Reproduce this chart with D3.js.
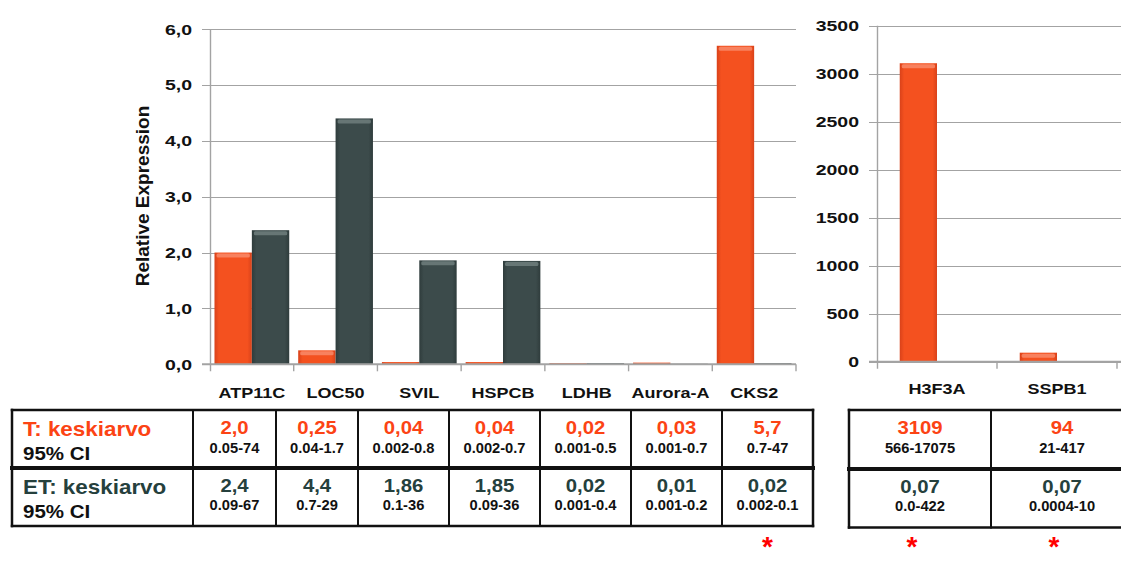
<!DOCTYPE html>
<html>
<head>
<meta charset="utf-8">
<script src="https://cdn.jsdelivr.net/npm/d3@7"></script>
<style>
  html, body { margin: 0; padding: 0; background: #fff; }
  svg { display: block; font-family: "Liberation Sans", Arial, sans-serif; }
</style>
</head>
<body>
<svg id="chart" width="1121" height="562"></svg>
<script>
// ---- data ----
const leftGenes = ["ATP11C", "LOC50", "SVIL", "HSPCB", "LDHB", "Aurora-A", "CKS2"];
const leftTMean = ["2,0", "0,25", "0,04", "0,04", "0,02", "0,03", "5,7"];
const leftTCI = ["0.05-74", "0.04-1.7", "0.002-0.8", "0.002-0.7", "0.001-0.5", "0.001-0.7", "0.7-47"];
const leftETMean = ["2,4", "4,4", "1,86", "1,85", "0,02", "0,01", "0,02"];
const leftETCI = ["0.09-67", "0.7-29", "0.1-36", "0.09-36", "0.001-0.4", "0.001-0.2", "0.002-0.1"];

const rightGenes = ["H3F3A", "SSPB1"];
const rightTMean = ["3109", "94"];
const rightTCI = ["566-17075", "21-417"];
const rightETMean = ["0,07", "0,07"];
const rightETCI = ["0.0-422", "0.0004-10"];

const leftTicks = [0, 1, 2, 3, 4, 5, 6];
const rightTicks = [0, 500, 1000, 1500, 2000, 2500, 3000, 3500];
const groups = ["T", "ET"];
const rowTitles = ["T: keskiarvo", "ET: keskiarvo"];
const ciTitle = "95% CI";
const significant = ["CKS2", "H3F3A", "SSPB1"];
const yTitle = "Relative Expression";

// ---- helpers ----
const num = s => +s.replace(",", ".");
const commaFmt = v => d3.format(".1f")(v).replace(".", ",");

const ORANGE = "#f4511f", ORANGE_HI = "#f8896a", ORANGE_DK = "#d9421a";
const GRAY = "#3c4b4b", GRAY_HI = "#6f7e7d", GRAY_DK = "#2f3c3c";
const TXT_T = "#fc4314", TXT_ET = "#25403d";

const svg = d3.select("#chart");
svg.append("rect").attr("width", 1121).attr("height", 562).attr("fill", "#fff");

const defs = svg.append("defs");
function grad(id, c0, c1, c2) {
  const g = defs.append("linearGradient").attr("id", id)
    .attr("x1", 0).attr("x2", 1).attr("y1", 0).attr("y2", 0);
  g.append("stop").attr("offset", "0%").attr("stop-color", c0);
  g.append("stop").attr("offset", "12%").attr("stop-color", c1);
  g.append("stop").attr("offset", "88%").attr("stop-color", c1);
  g.append("stop").attr("offset", "100%").attr("stop-color", c2);
}
grad("gT", ORANGE_DK, ORANGE, ORANGE_DK);
grad("gET", GRAY_DK, GRAY, GRAY_DK);

const style = {
  T: { fill: "url(#gT)", hi: ORANGE_HI },
  ET: { fill: "url(#gET)", hi: GRAY_HI }
};

// stretched text: draws text at (x,y) with horizontal scale k
function stext(parent, str, x, y, size, k, anchor, color, weight) {
  return parent.append("text")
    .attr("transform", `translate(${x},${y}) scale(${k},1)`)
    .attr("text-anchor", anchor)
    .attr("font-size", size)
    .attr("font-weight", weight || "bold")
    .attr("fill", color || "#000")
    .text(str);
}

function drawPanel(opts) {
  const { genes, tVals, etVals, x0, x1, gridEnd, y, ticks, tickFmt, groupPad } = opts;
  const g = svg.append("g");
  const x = d3.scaleBand().domain(genes).range([x0, x1]).padding(0);
  const xs = d3.scaleBand().domain(groups).range([0, x.bandwidth()])
    .paddingInner(0).paddingOuter(groupPad);
  const [yBottom, yTop] = y.range();

  // grid lines (extending left as outer ticks)
  g.selectAll(".grid").data(ticks).join("line")
    .attr("x1", x0 - 8).attr("x2", gridEnd)
    .attr("y1", d => Math.round(y(d)) + 0.5).attr("y2", d => Math.round(y(d)) + 0.5)
    .attr("stroke", "#a3a3a3").attr("stroke-width", 1.2);

  // tick labels
  ticks.forEach(t => {
    stext(g, tickFmt(t), x0 - 18, y(t) + 5.5, 15, 1.3, "end", "#111");
  });

  // bars
  const rows = genes.map((gene, i) => ({ gene, T: tVals[i], ET: etVals[i] }));
  rows.forEach(r => {
    groups.forEach(s => {
      const v = r[s];
      const bx = x(r.gene) + xs(s);
      const bw = xs.bandwidth();
      const by = y(v);
      const bh = yBottom - by;
      if (bh <= 0) return;
      g.append("rect").attr("x", bx).attr("y", by).attr("width", bw).attr("height", bh)
        .attr("fill", style[s].fill);
      if (bh > 3) {
        g.append("rect").attr("x", bx + 2).attr("y", by + 1)
          .attr("width", bw - 4).attr("height", Math.min(4, bh - 2))
          .attr("rx", 1.5).attr("fill", style[s].hi).attr("opacity", 0.85);
      }
    });
  });

  // baseline drawn over the bars
  g.append("line").attr("x1", x0 - 8).attr("x2", gridEnd)
    .attr("y1", yBottom).attr("y2", yBottom)
    .attr("stroke", "#a3a3a3").attr("stroke-width", 2);

  // y axis line
  g.append("line").attr("x1", x0 + 0.5).attr("x2", x0 + 0.5)
    .attr("y1", yTop).attr("y2", yBottom + 7)
    .attr("stroke", "#a3a3a3").attr("stroke-width", 1.4);

  // category boundary ticks
  const bounds = genes.map(d => x(d)).concat([x1]);
  g.selectAll(".ctick").data(bounds.slice(1)).join("line")
    .attr("x1", d => d).attr("x2", d => d)
    .attr("y1", yBottom).attr("y2", yBottom + 7)
    .attr("stroke", "#a3a3a3").attr("stroke-width", 1.4);

  // category labels
  genes.forEach(gene => {
    stext(g, gene, x(gene) + x.bandwidth() / 2, opts.labelY, 15, 1.2, "middle", "#111");
  });
  return x;
}

// ---- left panel ----
const yL = d3.scaleLinear().domain([0, 6]).range([364.3, 29]);
drawPanel({
  genes: leftGenes, tVals: leftTMean.map(num), etVals: leftETMean.map(num),
  x0: 210, x1: 796, gridEnd: 796, y: yL, ticks: leftTicks, tickFmt: commaFmt,
  groupPad: 0.12, labelY: 397.5
});

// ---- right panel ----
const yR = d3.scaleLinear().domain([0, 3500]).range([361.7, 25.7]);
drawPanel({
  genes: rightGenes, tVals: rightTMean.map(num), etVals: rightETMean.map(num),
  x0: 877, x1: 1117, gridEnd: 1121, y: yR, ticks: rightTicks, tickFmt: d3.format("d"),
  groupPad: 0.61, labelY: 394
});

// y-axis title
svg.append("text")
  .attr("transform", "translate(149,196) rotate(-90)")
  .attr("text-anchor", "middle").attr("font-size", 19).attr("font-weight", "bold")
  .attr("fill", "#111").text(yTitle);

// ---- tables ----
function drawTable(opts) {
  const { cols, top, mid, bottom, tMean, tCI, etMean, etCI, genes, withTitles, starDx } = opts;
  const g = svg.append("g");
  const left = cols[0], right = cols[cols.length - 1];
  const dataStart = withTitles ? 1 : 0;

  const rowsDef = [
    { top: top, mean: tMean, ci: tCI, color: TXT_T },
    { top: mid, mean: etMean, ci: etCI, color: TXT_ET }
  ];
  rowsDef.forEach((row, ri) => {
    row.mean.forEach((m, i) => {
      const cx = (cols[dataStart + i] + cols[dataStart + i + 1]) / 2;
      stext(g, m, cx, row.top + 24, 19, 1.07, "middle", row.color);
      stext(g, row.ci[i], cx, row.top + 43 - ri, 14, 1.05, "middle", "#111");
    });
    if (withTitles) {
      stext(g, rowTitles[ri], left + 11, row.top + 26, 19.5, 1.15, "start", row.color);
      stext(g, ciTitle, left + 11, row.top + 50, 18, 1.14, "start", "#111");
    }
  });

  // borders
  const line = (x1, y1, x2, y2, w) => g.append("line")
    .attr("x1", x1).attr("y1", y1).attr("x2", x2).attr("y2", y2)
    .attr("stroke", "#111").attr("stroke-width", w).attr("stroke-linecap", "square");
  line(left, top, right, top, 2.5);
  line(left, bottom, right, bottom, 2.5);
  line(left, mid, right, mid, 4);
  cols.forEach((c, i) => line(c, top, c, bottom, (i === 0 || i === cols.length - 1) ? 2.5 : 2));

  // significance markers
  genes.forEach((gene, i) => {
    if (significant.includes(gene)) {
      const cx = (cols[dataStart + i] + cols[dataStart + i + 1]) / 2 + starDx;
      g.append("text").attr("x", cx).attr("y", 556)
        .attr("text-anchor", "middle").attr("font-size", 28).attr("font-weight", "bold")
        .attr("fill", "#ff0000").text("*");
    }
  });
}

drawTable({
  cols: [12, 193, 276, 358, 449, 540, 631, 722, 813],
  top: 410, mid: 468, bottom: 526,
  tMean: leftTMean, tCI: leftTCI, etMean: leftETMean, etCI: leftETCI,
  genes: leftGenes, withTitles: true, starDx: 0
});
drawTable({
  cols: [849, 991, 1133],
  top: 410, mid: 469, bottom: 527.5,
  tMean: rightTMean, tCI: rightTCI, etMean: rightETMean, etCI: rightETCI,
  genes: rightGenes, withTitles: false, starDx: -8
});
</script>
</body>
</html>
